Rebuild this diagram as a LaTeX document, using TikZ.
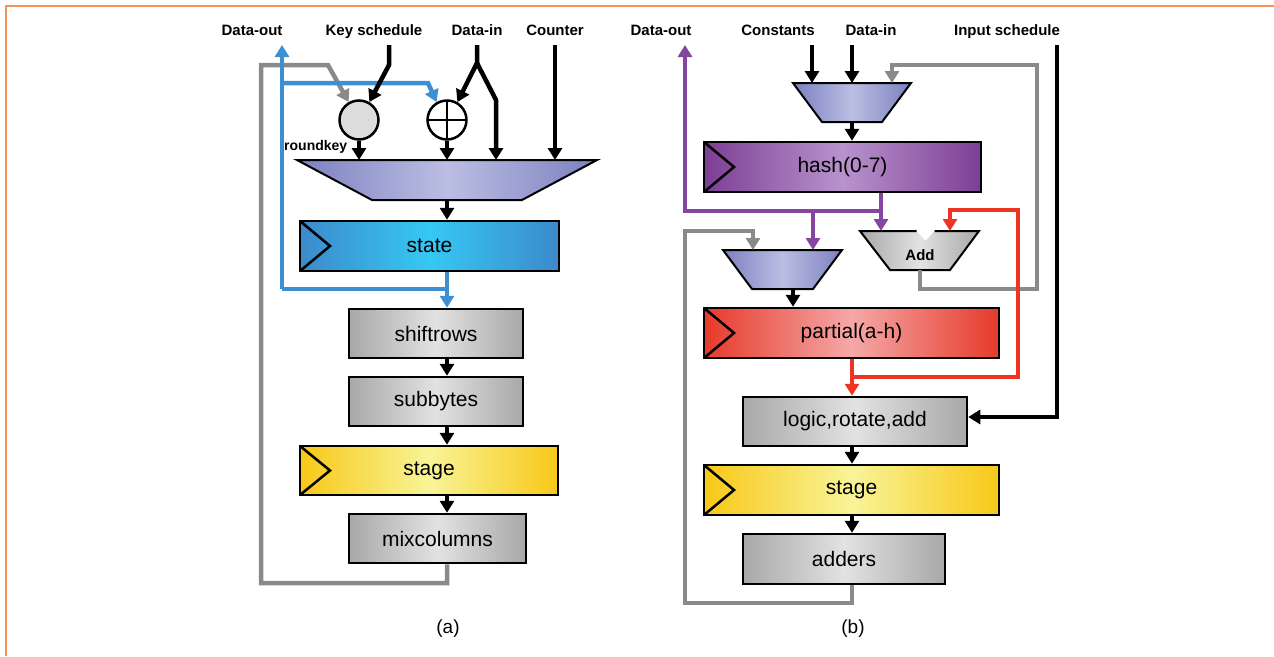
\documentclass[tikz,border=0pt]{standalone}
\usepackage{fontspec}
\setmainfont{Liberation Sans}
\usetikzlibrary{arrows.meta,calc}

\definecolor{frameorange}{HTML}{F79256}
\definecolor{wire}{HTML}{8A8A8A}
\definecolor{wireblue}{HTML}{3D8FD3}
\definecolor{wirepurple}{HTML}{8446A0}
\definecolor{wirered}{HTML}{EE3524}
\definecolor{muxedge}{HTML}{7C80C0}
\definecolor{muxmid}{HTML}{BBBEE2}
\definecolor{grayedge}{HTML}{A8A8A8}
\definecolor{graymid}{HTML}{E2E2E2}
\definecolor{blueedge}{HTML}{3C8ACB}
\definecolor{bluemid}{HTML}{36C8F4}
\definecolor{yellowedge}{HTML}{F8C818}
\definecolor{yellowmid}{HTML}{F8F498}
\definecolor{purpleedge}{HTML}{7D3E95}
\definecolor{purplemid}{HTML}{B893CC}
\definecolor{rededge}{HTML}{E63A2A}
\definecolor{redmid}{HTML}{F5A8A8}
\definecolor{keygray}{HTML}{DCDCDC}

\begin{document}
\begin{tikzpicture}[x=1pt,y=-1pt,
  box/.style={draw=black, line width=2.5pt, inner sep=0pt,
    font=\fontsize{21}{25}\selectfont},
  shaded/.style 2 args={left color=#1, right color=#1, middle color=#2},
  graybox/.style={box, shaded={grayedge}{graymid}},
  reg/.style 2 args={box, shaded={#1}{#2},
    path picture={\draw[line width=2.5pt]
      (path picture bounding box.north west)
      -- ($(path picture bounding box.west)+(30,0)$)
      -- (path picture bounding box.south west);}},
  hole/.style={inner sep=0pt, outer sep=0pt},
  lbl/.style={font=\bfseries\fontsize{15}{18}\selectfont, inner sep=0pt},
  toplbl/.style={lbl, anchor=base},
  captext/.style={font=\fontsize{19}{23}\selectfont, inner sep=0pt},
  arrowend/.style={-{Triangle[width=14pt,length=12pt]}},
  arr/.style={line width=4.5pt, arrowend},
  garr/.style={arr, draw=wire},
  barr/.style={arr, draw=wireblue},
  bline/.style={line width=4.5pt, draw=wireblue},
  parr/.style={arr, draw=wirepurple},
  rarr/.style={arr, draw=wirered},
  muxshape/.style={draw=black, line width=2pt, shaded={muxedge}{muxmid}},
]
\useasboundingbox (0,0) rectangle (1274,656);

% frame
\draw[frameorange, line width=2pt] (6,656) -- (6,6) -- (1274,6);

% ---------------- (a) AES round ----------------
\node[toplbl] (laDout) at (252,35.5) {Data-out};
\node[toplbl] (laKey)  at (374,35.5) {Key schedule};
\node[toplbl] (laDin)  at (477,35.5) {Data-in};
\node[toplbl] (laCnt)  at (555,35.5) {Counter};

\coordinate (doutA) at (282,45);
\coordinate (keyA)  at (389,45);
\coordinate (dinA)  at (477,45);
\coordinate (cntA)  at (555,45);
\coordinate (colA)  at (447,0);

% input multiplexer
\node[hole, minimum width=300pt, minimum height=40pt] (muxA) at (447,180) {};
\shadedraw[muxshape] (muxA.north west) -- (muxA.north east)
  -- ($(muxA.south east)+(-75,0)$) -- ($(muxA.south west)+(75,0)$) -- cycle;

% key addition and xor
\node[circle, draw=black, line width=2.5pt, fill=keygray, minimum size=39pt,
  inner sep=0pt] (kcirc) at (359,120) {};
\node[circle, draw=black, line width=2.5pt, fill=white, minimum size=39pt,
  inner sep=0pt, path picture={\draw[line width=2.5pt]
    (path picture bounding box.north) -- (path picture bounding box.south)
    (path picture bounding box.west) -- (path picture bounding box.east);}]
  (xor) at (447,120) {};
\node[lbl, anchor=west, font=\bfseries\fontsize{14}{17}\selectfont] (rk) at (284,147) {roundkey};

\node[reg={blueedge}{bluemid}, minimum width=259pt, minimum height=50pt] (state) at (429.5,246) {state};
\node[graybox, minimum width=174pt, minimum height=49pt] (shiftrows) at (436,333.5) {shiftrows};
\node[graybox, minimum width=174pt, minimum height=49pt] (subbytes) at (436,401.5) {subbytes};
\node[reg={yellowedge}{yellowmid}, minimum width=258pt, minimum height=49pt] (stageA) at (429,470.5) {stage};
\node[graybox, minimum width=177pt, minimum height=49pt] (mixcol) at (437.5,538.5) {mixcolumns};

\node[captext] (capA) at (448,629) {(a)};

% feedback path
\draw[garr] (mixcol.south -| colA) -- (447,583) -- (261,583) -- (261,65) -- (328,65) -- (kcirc.120);

% state output and data-out
\draw[barr] (state.south -| colA) -- (shiftrows.north -| colA);
\draw[bline] (447,289) -- (282,289);
\draw[barr] (282,289) -- (doutA);
\draw[barr] (282,83) -- (428,83) -- (xor.120);

% inputs
\coordinate (dinAsplit) at (477,63);
\coordinate (dinAr) at (496,100);
\draw[arr] (keyA) -- (389,65) -- (kcirc.60);
\draw[arr] (dinA) -- (dinAsplit) -- (xor.60);
\draw[arr, line join=round] (dinAsplit) -- (dinAr) -- (dinAr |- muxA.north);
\draw[arr] (cntA) -- (cntA |- muxA.north);
\draw[arr] (kcirc.south) -- (kcirc.south |- muxA.north);
\draw[arr] (xor.south) -- (xor.south |- muxA.north);

% datapath
\draw[arr] (muxA.south) -- (state.north -| muxA.south);
\draw[arr] (shiftrows.south -| colA) -- (subbytes.north -| colA);
\draw[arr] (subbytes.south -| colA) -- (stageA.north -| colA);
\draw[arr] (stageA.south -| colA) -- (mixcol.north -| colA);

% ---------------- (b) hash round ----------------
\node[toplbl] (lbDout) at (661,35.5) {Data-out};
\node[toplbl] (lbConst) at (778,35.5) {Constants};
\node[toplbl] (lbDin) at (871,35.5) {Data-in};
\node[toplbl] (lbIns) at (1007,35.5) {Input schedule};

\coordinate (doutB) at (685,45);
\coordinate (constB) at (812,45);
\coordinate (dinB) at (852,45);
\coordinate (insB) at (1057,45);
\coordinate (colB) at (852,0);

\node[hole, minimum width=118pt, minimum height=39pt] (muxB1) at (852,102.5) {};
\shadedraw[muxshape] (muxB1.north west) -- (muxB1.north east)
  -- ($(muxB1.south east)+(-29,0)$) -- ($(muxB1.south west)+(29,0)$) -- cycle;

\node[reg={purpleedge}{purplemid}, minimum width=277pt, minimum height=50pt] (hash) at (842.5,167) {hash(0-7)};

\node[hole, minimum width=119pt, minimum height=39pt] (muxB2) at (782.5,269.5) {};
\shadedraw[muxshape] (muxB2.north west) -- (muxB2.north east)
  -- ($(muxB2.south east)+(-29,0)$) -- ($(muxB2.south west)+(29,0)$) -- cycle;

% adder with a notch in its top edge
\node[hole, minimum width=119pt, minimum height=39pt] (add) at (919.5,250.5) {};
\shade[shaded={grayedge}{graymid}]
  (add.north west) -- ($(add.north)+(-3,0)$) -- ($(add.north)+(6,10)$)
  -- ($(add.north)+(15,0)$) -- (add.north east)
  -- ($(add.south east)+(-29,0)$) -- ($(add.south west)+(30,0)$) -- cycle;
\draw[line width=2pt, line join=miter]
  ($(add.north)+(-3,0)$) -- (add.north west) -- ($(add.south west)+(30,0)$)
  -- ($(add.south east)+(-29,0)$) -- (add.north east) -- ($(add.north)+(15,0)$);
\node[lbl] (addlbl) at (920,255) {Add};

\node[reg={rededge}{redmid}, minimum width=295pt, minimum height=50pt] (partial) at (851.5,333) {partial(a-h)};
\node[graybox, minimum width=224pt, minimum height=49pt] (logic) at (855,421.5) {logic,rotate,add};
\node[reg={yellowedge}{yellowmid}, minimum width=295pt, minimum height=50pt] (stageB) at (851.5,490) {stage};
\node[graybox, minimum width=202pt, minimum height=50pt] (adders) at (844,559) {adders};

\node[captext] (capB) at (853,629) {(b)};

% feedback paths
\coordinate (gB0) at (920,0);
\coordinate (gB1) at (892,65);
\coordinate (gB2) at (753,231);
\draw[garr] (add.south -| gB0) -- (920,289) -- (1037,289) -- (1037,65) -- (gB1) -- (gB1 |- muxB1.north);
\draw[garr] (adders.south -| colB) -- (852,603) -- (685,603) -- (685,231) -- (gB2) -- (gB2 |- muxB2.north);

% hash outputs
\coordinate (colP) at (881,0);
\coordinate (pj2) at (813,211);
\draw[parr] (hash.south -| colP) -- (add.north -| colP);
\draw[parr] (881,211) -- (685,211) -- (doutB);
\draw[parr] (pj2) -- (pj2 |- muxB2.north);

% inputs
\draw[arr] (constB) -- (constB |- muxB1.north);
\draw[arr] (dinB) -- (dinB |- muxB1.north);
\coordinate (insB2) at (1057,417);
\draw[arr] (insB) -- (insB2) -- (insB2 -| logic.east);

% datapath
\coordinate (m2o) at (793,0);
\draw[arr] (muxB1.south) -- (hash.north -| muxB1.south);
\draw[arr] (muxB2.south -| m2o) -- (partial.north -| m2o);
\draw[arr] (logic.south -| colB) -- (stageB.north -| colB);
\draw[arr] (stageB.south -| colB) -- (adders.north -| colB);

% partial outputs
\coordinate (rB) at (950,210);
\draw[rarr] (partial.south -| colB) -- (logic.north -| colB);
\draw[rarr] (852,377) -- (1018,377) -- (1018,210) -- (rB) -- (rB |- add.north);
\end{tikzpicture}
\end{document}
